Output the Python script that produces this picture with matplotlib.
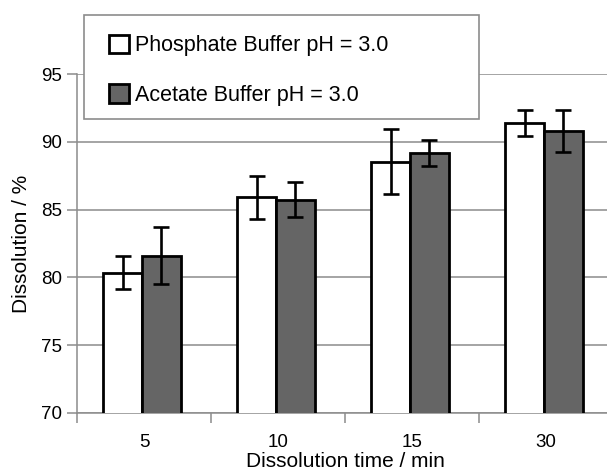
import numpy as np
import matplotlib
matplotlib.use("Agg")
import matplotlib.pyplot as plt
from matplotlib.patches import Rectangle

plt.rcParams['font.family'] = ['Liberation Sans', 'DejaVu Sans']

times = ['5', '10', '15', '30']
phosphate = [80.35, 85.9, 88.55, 91.4]
phosphate_err = [1.2, 1.6, 2.4, 0.95]
acetate = [81.6, 85.75, 89.2, 90.8]
acetate_err = [2.1, 1.3, 0.95, 1.55]
labels = ['Phosphate Buffer pH = 3.0', 'Acetate Buffer pH = 3.0']

fig = plt.figure(figsize=(6.07, 4.76), dpi=100)
ax = fig.add_axes([77 / 607, 1 - 412.7 / 476, 536 / 607, 338.4 / 476])

x = np.arange(len(times))
w = 0.29
err_kw = dict(ecolor='black', elinewidth=1.9, capsize=5.5, capthick=1.9)
b1 = ax.bar(x - w / 2 - 0.015, phosphate, w, color='white',
            edgecolor='black', linewidth=2, yerr=phosphate_err,
            error_kw=err_kw, zorder=3, label=labels[0])
b2 = ax.bar(x + w / 2 - 0.015, acetate, w, color='#656565',
            edgecolor='black', linewidth=2, yerr=acetate_err,
            error_kw=err_kw, zorder=3, label=labels[1])

ax.set_ylim(70, 95)
ax.set_xlim(-0.5, len(times) - 0.5)
ax.set_yticks([70, 75, 80, 85, 90, 95])
ax.yaxis.grid(True, color='#8c8c8c', linewidth=1.1, zorder=0)
ax.set_axisbelow(True)

ax.set_xticks(x)
ax.set_xticklabels(times)
ax.set_xticks(np.arange(-0.5, len(times)), minor=True)
ax.tick_params(axis='x', which='major', length=0, pad=15, labelsize=13.5)
ax.tick_params(axis='x', which='minor', length=7, color='#8c8c8c', width=1.1)
ax.tick_params(axis='y', length=7, color='#8c8c8c', width=1.1, labelsize=13.5, pad=4)

for s in ['top', 'right']:
    ax.spines[s].set_visible(False)
for s in ['left', 'bottom']:
    ax.spines[s].set_color('#8c8c8c')
    ax.spines[s].set_linewidth(1.1)

ax.set_xlabel('Dissolution time / min', fontsize=15, labelpad=1)
ax.set_ylabel('Dissolution / %', fontsize=15, labelpad=7)

# legend box sits partly above the plot area
frame = Rectangle((84 / 607, 1 - 119 / 476), (479 - 84) / 607, (119 - 15) / 476,
                  transform=fig.transFigure, facecolor='white',
                  edgecolor='#8c8c8c', linewidth=1.2, zorder=8)
fig.patches.append(frame)
leg = fig.legend(handles=[b1, b2], labels=labels, loc='upper left',
                 bbox_to_anchor=(98 / 607, 1 - 24 / 476), frameon=False,
                 fontsize=15.5, borderpad=0, handlelength=0.95, handleheight=0.95,
                 handletextpad=0.25, labelspacing=1.3)
leg.set_zorder(9)

fig.savefig('out.png', dpi=100)
